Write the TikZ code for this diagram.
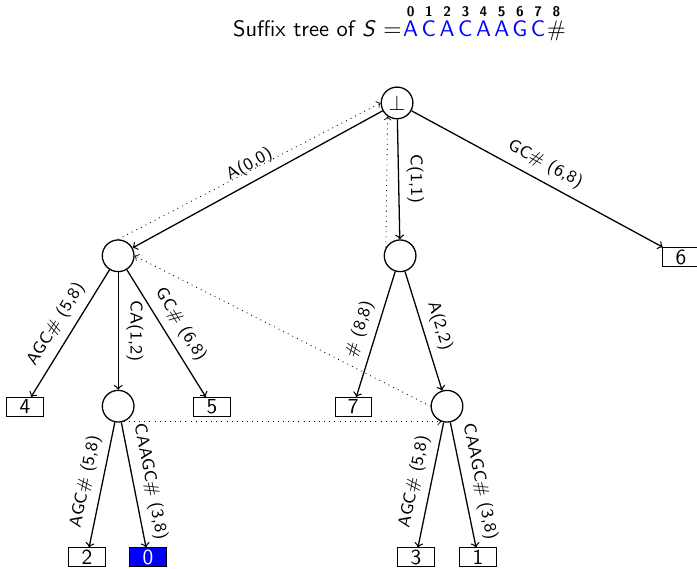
\documentclass[tikz,border=0pt]{standalone}
\usepackage{tikz}
\usetikzlibrary{positioning}
\definecolor{StrBlue}{HTML}{0000FF}
\tikzset{
  st inner/.style={draw, semithick, circle, minimum size=0.52cm, inner sep=1pt},
  st leaf/.style={
    draw,
    rectangle,
    minimum width=0.6cm,
    minimum height=0.31cm,
    inner sep=0pt,
    font=\sffamily
  },
  st leaf first/.style={st leaf, fill=StrBlue, text=white},
  st edge/.style={->, semithick},
  st link/.style={->, dotted},
  st label/.style={
    font=\sffamily\footnotesize,
    midway,
    sloped,
    above,
    inner sep=3.5pt
  },
  st title/.style={font=\sffamily\fontsize{10.5}{12}\selectfont, inner sep=0pt},
  st char/.style={st title, text=StrBlue, anchor=base},
  st index/.style={font=\sffamily\bfseries\fontsize{6.5}{7}\selectfont, inner sep=0pt}
}

\begin{document}
\begin{tikzpicture}
  \useasboundingbox (0,0) rectangle (11.445,-9.327);

  % heading: the string with its positions on top
  \node[st title, anchor=base east] (title) at (6.60,-0.607) {Suffix tree of \textit{S} $=$};
  \foreach \c [count=\i from 0] in {A,C,A,C,A,A,G,C} {
    \node[st char] (s\i) at ({6.744+0.299*\i},-0.607) {\c};
    \node[st index] (i\i) at ({6.744+0.299*\i},-0.19) {\i};
  }
  \node[st char, text=black] (s8) at (9.136,-0.607) {\#};
  \node[st index] (i8) at (9.136,-0.19) {8};

  % internal nodes and leaves
  \node[st inner] (root) at (6.52,-1.69) {$\perp$};
  \node[st inner] (a) at (1.94,-4.20) {};
  \node[st inner] (c) at (6.57,-4.20) {};
  \node[st leaf] (l6) at (11.18,-4.22) {6};
  \node[st leaf] (l4) at (0.41,-6.68) {4};
  \node[st inner] (aca) at (1.94,-6.67) {};
  \node[st leaf] (l5) at (3.48,-6.68) {5};
  \node[st leaf] (l7) at (5.80,-6.68) {7};
  \node[st inner] (ca) at (7.34,-6.67) {};
  \node[st leaf] (l2) at (1.43,-9.15) {2};
  \node[st leaf first] (l0) at (2.43,-9.15) {0};
  \node[st leaf] (l3) at (6.83,-9.15) {3};
  \node[st leaf] (l1) at (7.85,-9.15) {1};

  % tree edges
  \draw[st edge] (root) -- node[st label] {A(0,0)} (a);
  \draw[st edge] (root) -- node[st label] {C(1,1)} (c);
  \draw[st edge] (root) -- node[st label] {GC\# (6,8)} (l6);
  \draw[st edge] (a) -- node[st label] {AGC\# (5,8)} (l4);
  \draw[st edge] (a) -- node[st label] {CA(1,2)} (aca);
  \draw[st edge] (a) -- node[st label] {GC\# (6,8)} (l5);
  \draw[st edge] (c) -- node[st label] {\# (8,8)} (l7);
  \draw[st edge] (c) -- node[st label] {A(2,2)} (ca);
  \draw[st edge] (aca) -- node[st label] {AGC\# (5,8)} (l2);
  \draw[st edge] (aca) -- node[st label] {CAAGC\# (3,8)} (l0);
  \draw[st edge] (ca) -- node[st label] {AGC\# (5,8)} (l3);
  \draw[st edge] (ca) -- node[st label] {CAAGC\# (3,8)} (l1);

  % suffix links
  \draw[st link] (a.north) -- (root.west);
  \draw[st link] (c.150) -- (root.235);
  \draw[st link] (ca.west) -- (a.east);
  \draw[st link] (aca.290) -- (ca.250);
\end{tikzpicture}
\end{document}
